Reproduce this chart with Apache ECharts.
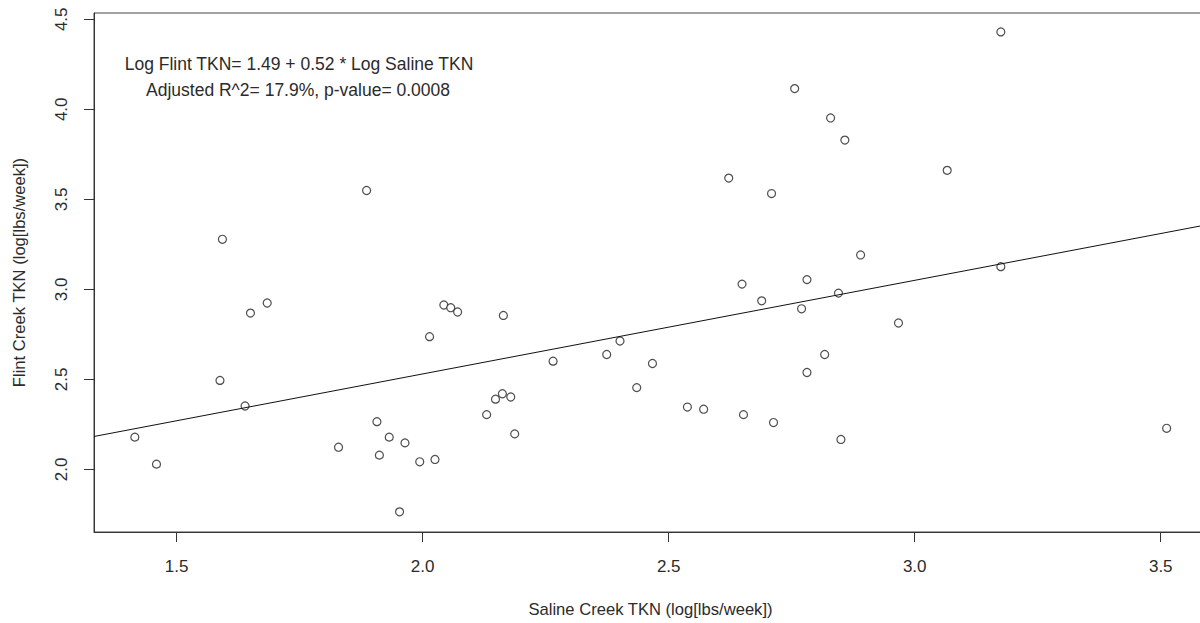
<!DOCTYPE html>
<html>
<head>
<meta charset="utf-8">
<title>Flint vs Saline Creek TKN</title>
<script src="https://cdn.jsdelivr.net/npm/echarts@6/dist/echarts.min.js"></script>
<style>
  html, body { margin: 0; padding: 0; background: #fff; overflow: hidden; }
  /* the plot box runs a few px past the right edge of the window, like the original */
  #chart { width: 1210px; height: 623px; }
</style>
</head>
<body>
<div id="chart"></div>
<script>
// weekly loads, log scale
var salineTKN = [1.415, 1.459, 1.593, 1.588, 1.639, 1.650, 1.684, 1.829, 1.886, 1.907, 1.912, 1.932, 1.953, 1.964, 1.994, 2.025, 2.014, 2.043, 2.057, 2.071, 2.130, 2.148, 2.162, 2.179, 2.187, 2.164, 2.265, 2.374, 2.401, 2.435, 2.467, 2.538, 2.571, 2.622, 2.649, 2.652, 2.689, 2.709, 2.713, 2.756, 2.770, 2.781, 2.781, 2.817, 2.829, 2.845, 2.850, 2.858, 2.890, 2.967, 3.066, 3.175, 3.175, 3.512]
var flintTKN = [2.179, 2.029, 3.278, 2.494, 2.352, 2.868, 2.924, 2.123, 3.549, 2.265, 2.079, 2.179, 1.764, 2.147, 2.042, 2.055, 2.737, 2.913, 2.898, 2.874, 2.304, 2.390, 2.420, 2.402, 2.197, 2.855, 2.601, 2.638, 2.713, 2.454, 2.588, 2.346, 2.334, 3.618, 3.029, 2.304, 2.936, 3.532, 2.260, 4.115, 2.892, 3.054, 2.538, 2.638, 3.952, 2.979, 2.166, 3.829, 3.191, 2.813, 3.661, 4.430, 3.126, 2.228]

var xTicks = [1.5, 2.0, 2.5, 3.0, 3.5]
var yTicks = [2.0, 2.5, 3.0, 3.5, 4.0, 4.5]

// fitted line: log flint = a + b * log saline
var intercept = 1.49
var slope = 0.52

var xMin = 1.332, xMax = 3.594
var yMin = 1.652, yMax = 4.535

var points = salineTKN.map(function (x, i) { return [x, flintTKN[i]] })
var fitLine = [[xMin, intercept + slope * xMin], [xMax, intercept + slope * xMax]]

var font = 'Liberation Sans, Arial, sans-serif'
var textColor = '#2b2b2b'

var chart = echarts.init(document.getElementById('chart'), null, { renderer: 'svg' })

chart.setOption({
  backgroundColor: '#fff',
  animation: false,
  grid: {
    left: 94, top: 13, width: 1113, height: 521,
    show: true, borderColor: '#444', borderWidth: 1, backgroundColor: 'transparent'
  },
  xAxis: {
    type: 'value', min: xMin, max: xMax,
    name: 'Saline Creek TKN (log[lbs/week])',
    nameLocation: 'middle', nameGap: 69,
    nameTextStyle: { color: textColor, fontSize: 16.6, fontFamily: font },
    axisLine: { show: true, lineStyle: { color: '#333', width: 1 } },
    axisTick: { show: true, length: 10, customValues: xTicks, lineStyle: { color: '#333' } },
    axisLabel: {
      customValues: xTicks, margin: 26, color: textColor, fontSize: 17, fontFamily: font,
      formatter: function (v) { return v.toFixed(1) }
    },
    splitLine: { show: false }
  },
  yAxis: {
    type: 'value', min: yMin, max: yMax,
    name: 'Flint Creek TKN (log[lbs/week])',
    nameLocation: 'middle', nameGap: 66,
    nameTextStyle: { color: textColor, fontSize: 16.6, fontFamily: font },
    axisLine: { show: true, lineStyle: { color: '#333', width: 1 } },
    axisTick: { show: true, length: 10, customValues: yTicks, lineStyle: { color: '#333' } },
    axisLabel: {
      customValues: yTicks, rotate: 90, margin: 24, color: textColor, fontSize: 17, fontFamily: font,
      formatter: function (v) { return v.toFixed(1) }
    },
    splitLine: { show: false }
  },
  graphic: [
    {
      type: 'text', x: 299, y: 64,
      style: {
        text: 'Log Flint TKN= 1.49 + 0.52 * Log Saline TKN',
        align: 'center', verticalAlign: 'middle',
        fill: textColor, fontSize: 17.5, fontFamily: font
      }
    },
    {
      type: 'text', x: 298, y: 90,
      style: {
        text: 'Adjusted R^2= 17.9%, p-value= 0.0008',
        align: 'center', verticalAlign: 'middle',
        fill: textColor, fontSize: 17.5, fontFamily: font
      }
    }
  ],
  series: [
    {
      type: 'line',
      data: fitLine,
      symbol: 'none',
      lineStyle: { color: '#111', width: 1 },
      silent: true
    },
    {
      type: 'scatter',
      data: points,
      symbol: 'circle',
      symbolSize: 8,
      itemStyle: { color: '#fff', borderColor: '#222', borderWidth: 1.2 }
    }
  ]
})
</script>
</body>
</html>
